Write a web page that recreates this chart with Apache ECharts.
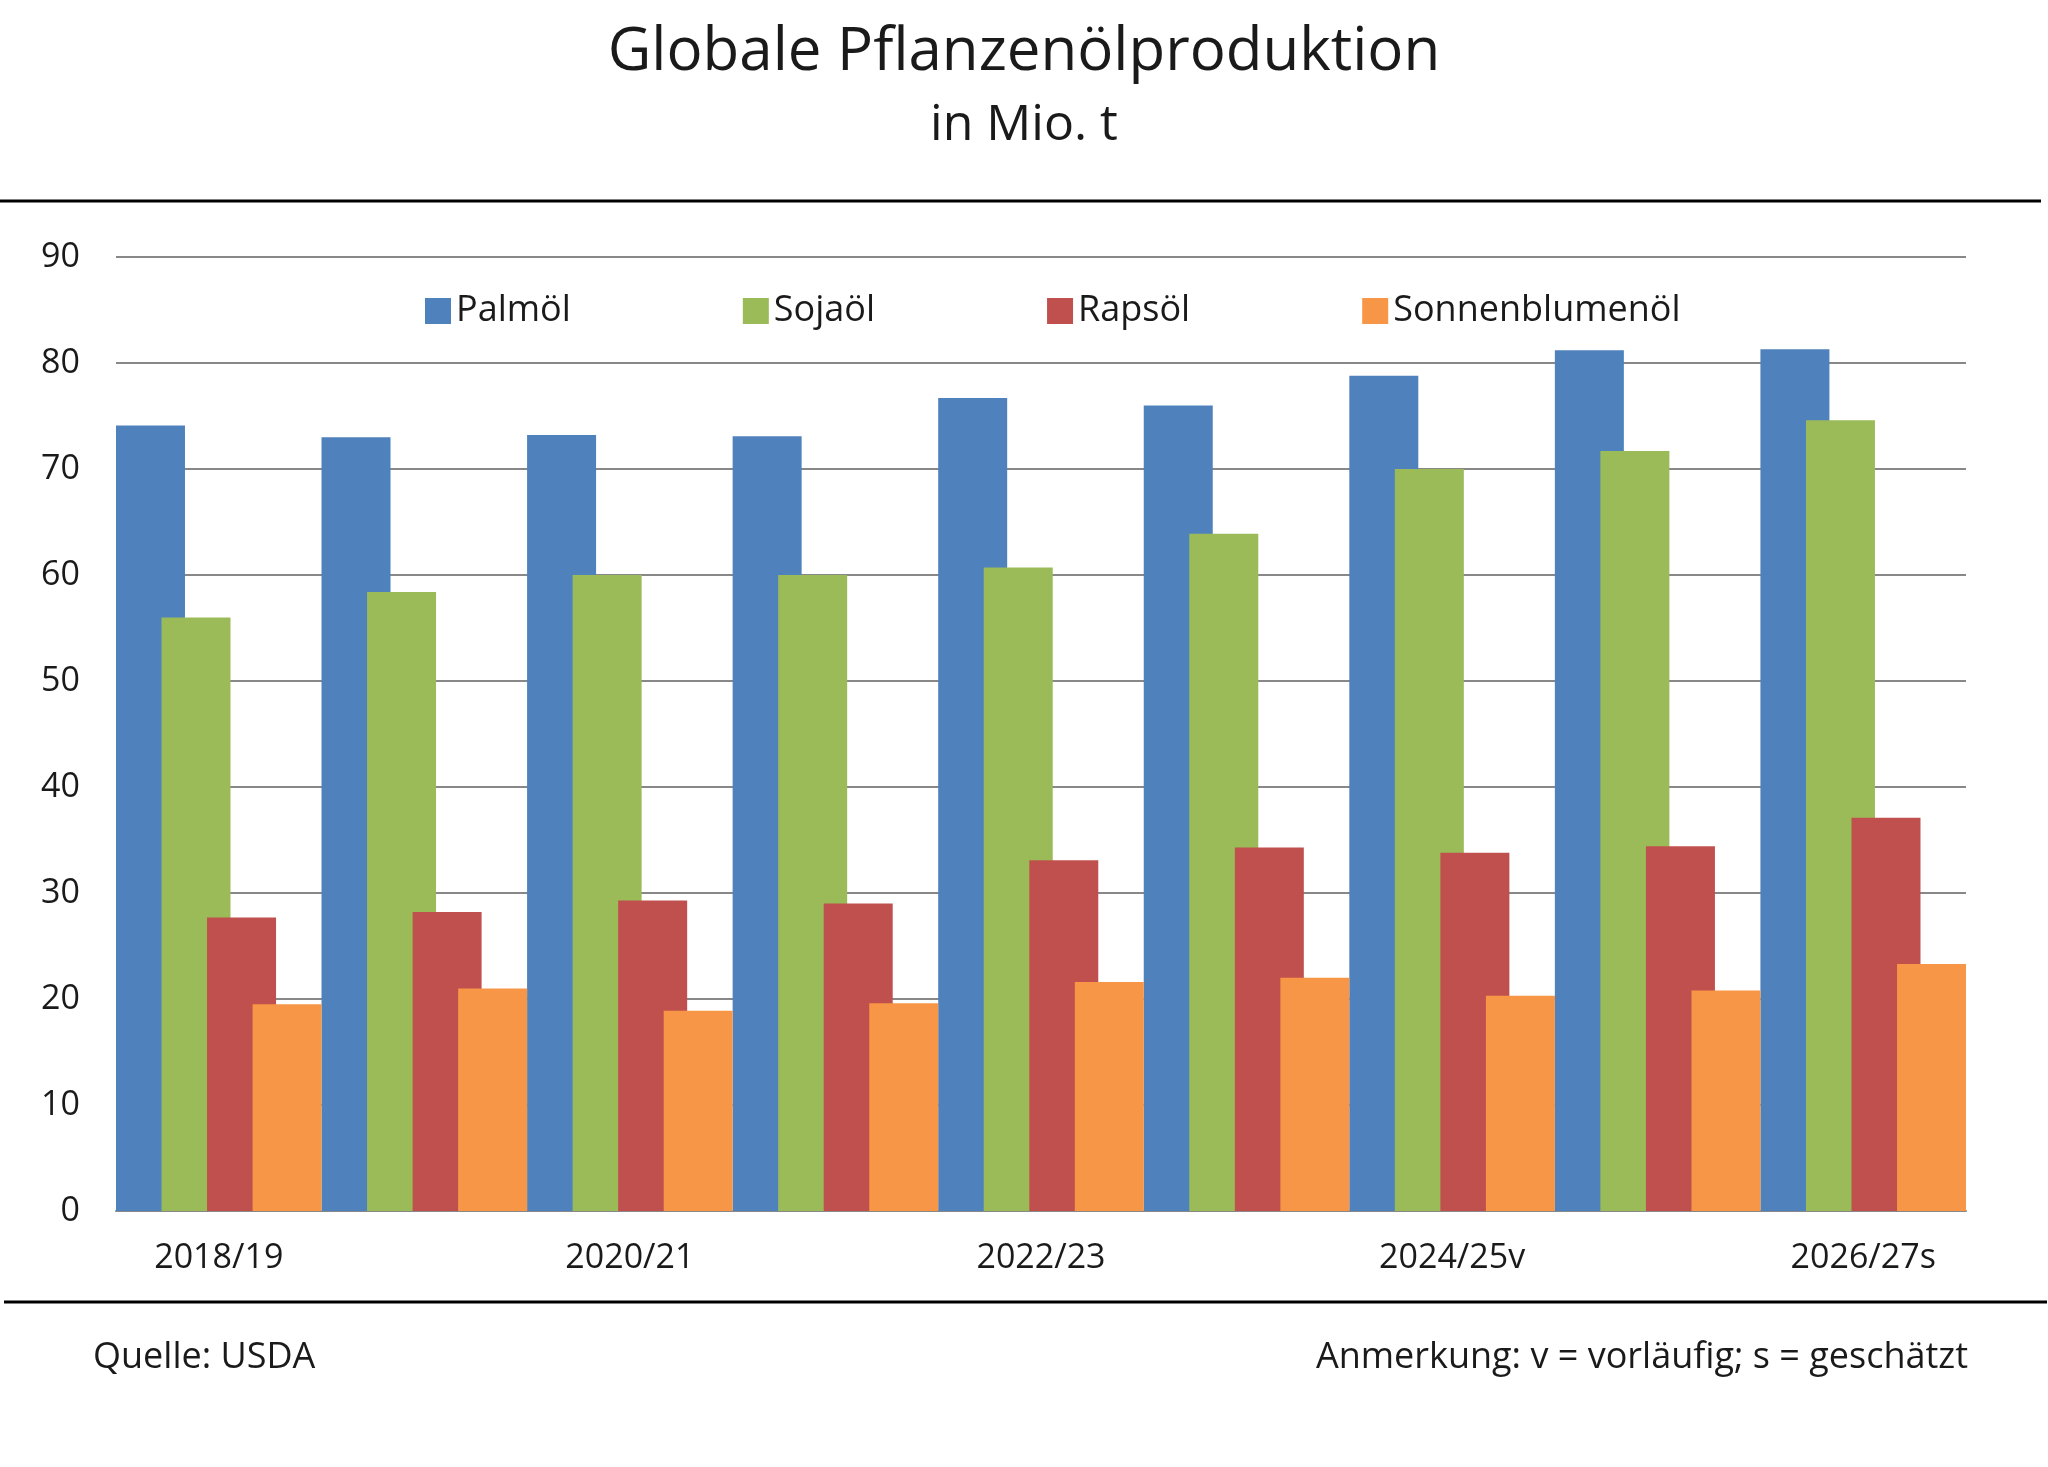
<!DOCTYPE html>
<html>
<head>
<meta charset="utf-8">
<script src="https://cdn.jsdelivr.net/npm/echarts@6/dist/echarts.min.js"></script>
<style>html,body{margin:0;padding:0;background:#fff}#main{width:2048px;height:1467px}</style>
</head>
<body>
<div id="main"></div>
<script>
var years = ['2018/19', '2019/20', '2020/21', '2021/22', '2022/23', '2023/24', '2024/25v', '2025/26', '2026/27s'];
var palmoel = [74.1, 73.0, 73.2, 73.1, 76.7, 76.0, 78.8, 81.2, 81.3];
var sojaoel = [56.0, 58.4, 60.0, 60.0, 60.7, 63.9, 70.0, 71.7, 74.6];
var rapsoel = [27.7, 28.2, 29.3, 29.0, 33.1, 34.3, 33.8, 34.4, 37.1];
var sonnenblumenoel = [19.5, 21.0, 18.9, 19.6, 21.6, 22.0, 20.3, 20.8, 23.3];
var yTicks = [0, 10, 20, 30, 40, 50, 60, 70, 80, 90];

var myChart = echarts.init(document.getElementById('main'));
var font = '"Open Sans", "Noto Sans", sans-serif';
function bar(name, data, color) {
  return { name: name, type: 'bar', data: data, barWidth: 69, barGap: '-34%', barCategoryGap: 0,
    itemStyle: { color: color } };
}
var option = {
  backgroundColor: '#fff',
  textStyle: { fontFamily: font },
  title: {
    text: 'Globale Pflanzenölproduktion',
    subtext: 'in Mio. t',
    left: 'center', top: 18, itemGap: 18,
    textStyle: { fontFamily: font, fontSize: 60, fontWeight: 'normal', color: '#1a1a1a' },
    subtextStyle: { fontFamily: font, fontSize: 50, color: '#1a1a1a' }
  },
  legend: {
    top: 288, left: 420, itemWidth: 26, itemHeight: 26, itemGap: 172, icon: 'rect',
    textStyle: { fontFamily: font, fontSize: 36, color: '#1a1a1a' }
  },
  grid: { left: 116, right: 82, top: 257, bottom: 256 },
  xAxis: {
    type: 'category', data: years,
    axisLine: { lineStyle: { color: '#888', width: 2 } },
    axisTick: { length: 12, lineStyle: { color: '#888', width: 2 } },
    axisLabel: { interval: 1, fontSize: 34, color: '#1a1a1a', margin: 30 }
  },
  yAxis: {
    type: 'value', min: yTicks[0], max: yTicks[yTicks.length - 1], interval: 10,
    axisLabel: { fontSize: 34, color: '#1a1a1a', margin: 36 },
    splitLine: { lineStyle: { color: '#888', width: 2 } }
  },
  graphic: [
    { type: 'line', shape: { x1: 0, y1: 201, x2: 2041, y2: 201 }, style: { stroke: '#000', lineWidth: 3 } },
    { type: 'line', shape: { x1: 4, y1: 1302, x2: 2047, y2: 1302 }, style: { stroke: '#000', lineWidth: 3 } },
    { type: 'text', left: 93, top: 1340, style: { text: 'Quelle: USDA', fontFamily: font, fontSize: 36, fill: '#1a1a1a' } },
    { type: 'text', right: 80, top: 1340, style: { text: 'Anmerkung: v = vorläufig; s = geschätzt', fontFamily: font, fontSize: 36, fill: '#1a1a1a' } }
  ],
  series: [
    bar('Palmöl', palmoel, '#4f81bd'),
    bar('Sojaöl', sojaoel, '#9bbb59'),
    bar('Rapsöl', rapsoel, '#c0504d'),
    bar('Sonnenblumenöl', sonnenblumenoel, '#f79646')
  ]
};
myChart.setOption(option);
</script>
</body>
</html>
